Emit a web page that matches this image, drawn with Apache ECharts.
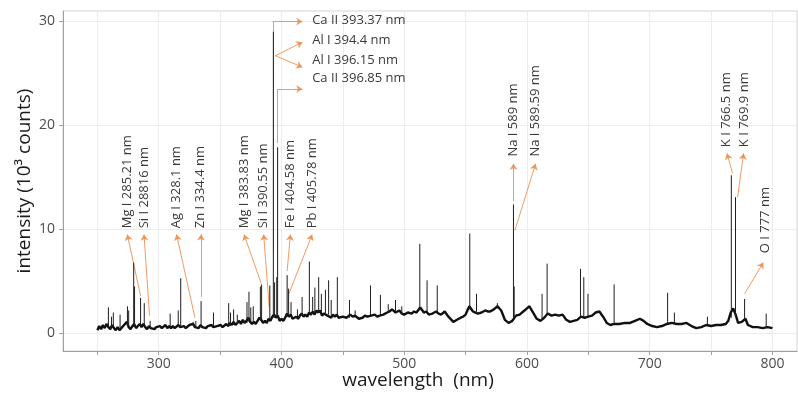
<!DOCTYPE html>
<html>
<head>
<meta charset="utf-8">
<script src="https://cdn.jsdelivr.net/npm/echarts@6/dist/echarts.min.js"></script>
<style>
  html, body { margin: 0; padding: 0; background: #fff; }
  #chart { width: 798px; height: 393px; }
</style>
</head>
<body>
<div id="chart"></div>
<script>
// continuum: [nm, 10^3 counts]
const baseline = [
  [250, 0.3], [251.5, 0.7], [253, 0.4], [254.5, 0.8], [256, 0.5], [257.5, 0.9], [259, 0.6], [260.5, 0.4],
  [262, 0.8], [263.5, 0.5], [265, 0.3], [266.5, 0.6], [268, 0.3], [269.5, 0.5], [271, 0.4], [272.5, 0.9],
  [274, 1.1], [275.5, 0.6], [277, 0.4], [278.5, 0.7], [280, 0.9], [281.5, 0.5], [283, 0.7], [284.5, 0.9],
  [286, 0.6], [287.5, 0.9], [289, 0.6], [290.5, 0.4], [292, 0.7], [293.5, 0.5], [295, 0.6], [296.5, 0.4],
  [298, 0.6], [299.5, 0.5], [301, 0.7], [302.5, 0.5], [304, 0.6], [305.5, 0.8], [307, 0.5], [308.5, 0.7],
  [310, 0.5], [311.5, 0.7], [313, 0.5], [314.5, 0.6], [316, 0.8], [317.5, 0.6], [319, 0.5], [320.5, 0.7],
  [322, 0.5], [323.5, 0.6], [325, 0.8], [326.5, 0.7], [328, 0.9], [329.5, 0.6], [331, 0.7], [332.5, 0.5],
  [334, 0.8], [335.5, 0.6], [337, 0.7], [338.5, 0.5], [340, 0.7], [341.5, 0.6], [343, 0.8], [344.5, 0.6],
  [346, 0.5], [347.5, 0.7], [349, 0.6], [350.5, 0.8], [352, 0.6], [353.5, 0.7], [355, 0.9], [356.5, 0.7],
  [358, 1.0], [359.5, 0.8], [361, 1.1], [362.5, 0.8], [364, 1.0], [365.5, 1.2], [367, 0.9], [368.5, 1.3],
  [370, 1.0], [371.5, 1.2], [373, 1.5], [374.5, 1.1], [376, 0.9], [377.5, 1.1], [379, 0.9], [380.5, 1.2],
  [382, 1.5], [383.5, 1.3], [385, 1.0], [386.5, 1.2], [388, 1.0], [389.5, 1.4], [391, 1.2], [392.5, 1.6],
  [394, 1.8], [395.5, 1.5], [397, 1.7], [398.5, 1.2], [400, 1.4], [401.5, 1.2], [403, 1.5], [404.5, 1.9],
  [406, 1.6], [407.5, 1.8], [409, 1.4], [410.5, 1.3], [412, 1.6], [413.5, 1.4], [415, 1.7], [416.5, 1.9],
  [418, 1.6], [419.5, 1.8], [421, 1.6], [422.5, 2.0], [424, 1.8], [425.5, 2.1], [427, 1.8], [428.5, 2.2],
  [430, 2.0], [431.5, 2.2], [433, 1.7], [434.5, 1.9], [436, 2.0], [437.5, 1.7], [439, 1.8], [440.5, 1.5],
  [442, 1.8], [443.5, 1.6], [445, 1.8], [446.5, 1.5], [448, 1.6], [450, 1.6], [453, 1.5], [456, 1.8],
  [458, 1.6], [460, 1.7], [463, 1.4], [466, 1.5], [468, 1.7], [470, 1.6], [473, 1.7], [476, 1.8],
  [478, 1.6], [480, 1.7], [483, 1.8], [486, 2.0], [488, 2.1], [490, 2.3], [493, 2.0], [496, 2.2],
  [498, 1.9], [500, 1.8], [503, 2.0], [506, 1.9], [508, 2.1], [510, 2.0], [513, 2.5], [516, 2.0],
  [518, 2.1], [520, 1.8], [523, 1.9], [526, 2.1], [528, 1.9], [530, 1.8], [533, 2.1], [536, 1.6],
  [540, 1.1], [543, 1.3], [546, 1.5], [548, 1.6], [550, 1.8], [553, 2.6], [556, 2.1], [558, 2.0],
  [560, 1.9], [563, 2.0], [566, 2.2], [568, 2.1], [570, 2.1], [573, 2.3], [576, 2.6], [579, 2.2],
  [582, 1.3], [585, 1.0], [588, 1.2], [591, 1.7], [594, 1.8], [597, 2.1], [600, 2.4], [602, 2.6],
  [605, 2.0], [608, 1.4], [611, 1.2], [614, 1.5], [617, 1.9], [620, 1.7], [623, 1.8], [626, 1.7],
  [629, 1.8], [632, 1.3], [635, 1.1], [638, 1.2], [641, 1.3], [644, 1.6], [647, 1.5], [650, 1.6],
  [653, 1.7], [656, 2.0], [659, 2.1], [662, 1.6], [665, 1.0], [668, 0.8], [671, 0.9], [675, 0.9],
  [680, 1.0], [684, 1.0], [688, 1.2], [692, 1.4], [695, 1.2], [698, 0.9], [702, 0.7], [706, 0.6],
  [710, 0.7], [714, 0.9], [718, 1.0], [722, 0.9], [726, 0.9], [730, 1.0], [734, 0.7], [738, 0.5],
  [742, 0.6], [746, 0.8], [750, 0.7], [754, 0.8], [758, 0.8], [762, 0.9], [764, 1.2], [766, 2.0],
  [768, 2.4], [770, 1.8], [772, 1.0], [775, 1.1], [778, 1.4], [780, 0.8], [784, 0.6], [788, 0.6],
  [792, 0.5], [796, 0.6], [800, 0.5]
];

// emission lines: [nm, foot, top]
const peaks = [
  [259, 0.6, 2.5], [261.5, 0.6, 1.6], [263, 0.6, 2.0], [268.5, 0.4, 1.8], [274.5, 0.7, 2.6],
  [275.5, 0.7, 2.2], [279.6, 0.6, 6.8], [280.3, 0.6, 4.5], [285.2, 0.7, 3.4], [288.2, 0.6, 2.9],
  [293, 0.5, 1.2], [309.3, 0.5, 1.9], [315.9, 0.6, 2.2], [317.9, 0.6, 5.3], [328.1, 0.7, 1.1],
  [330.2, 0.6, 1.2], [334.5, 0.6, 3.1], [344.6, 0.6, 2.0], [357, 0.7, 2.9], [358.5, 0.7, 2.0],
  [361, 0.8, 2.3], [364, 0.9, 1.8], [371.9, 1.0, 3.0], [373.5, 1.1, 4.0], [375, 1.0, 2.5],
  [377, 1.0, 2.6], [382.8, 1.2, 4.5], [383.8, 1.3, 4.7], [390.5, 1.3, 4.6], [393.37, 1.5, 29.0],
  [394.4, 1.5, 4.9], [396.15, 1.5, 5.4], [396.85, 1.5, 17.9], [404.6, 1.6, 5.6], [405.8, 1.6, 4.3],
  [407.8, 1.6, 3.0], [413, 1.5, 2.3], [416.8, 1.7, 3.5], [422.7, 1.8, 6.9], [425.4, 1.9, 3.5],
  [427.2, 1.9, 4.4], [430.3, 2.0, 5.4], [432.5, 1.9, 3.8], [435.8, 1.9, 4.2], [438.4, 1.8, 5.1],
  [440.5, 1.7, 3.2], [445.5, 1.6, 5.4], [455.4, 1.5, 3.2], [460, 1.5, 2.2], [472.5, 1.7, 4.6],
  [480.6, 1.7, 3.7], [487, 2.0, 2.8], [492.9, 2.0, 3.2], [498, 1.9, 2.6], [512.7, 2.2, 8.6],
  [518.6, 2.0, 5.1], [526.9, 2.0, 4.6], [553.4, 2.3, 9.6], [558.9, 2.0, 3.8], [575.9, 2.4, 2.9],
  [589.0, 1.2, 12.4], [589.6, 1.3, 4.5], [612.3, 1.3, 3.8], [616.4, 1.8, 6.7], [643.6, 1.5, 6.2],
  [646.3, 1.5, 5.4], [649.7, 1.6, 3.8], [671.0, 0.9, 4.7], [714.6, 0.9, 3.9], [720.1, 0.9, 2.0],
  [747, 0.8, 1.6], [766.5, 1.5, 15.2], [769.9, 1.6, 13.1], [777.3, 1.3, 3.3], [794.9, 0.5, 1.9]
];

const xTicks = [250, 300, 350, 400, 450, 500, 550, 600, 650, 700, 750, 800];
const xLabels = [300, 400, 500, 600, 700, 800];
const yTicks = [0, 10, 20, 30];

// upright (rotated) line labels and where their text starts
const sideNames = [
  'Mg I 285.21 nm', 'Si I 28816 nm', 'Ag I 328.1 nm', 'Zn I 334.4 nm',
  'Mg I 383.83 nm', 'Si I 390.55 nm', 'Fe I 404.58 nm', 'Pb I 405.78 nm',
  'Na I 589 nm', 'Na I 589.59 nm', 'K I 766.5 nm', 'K I 769.9 nm', 'O I 777 nm'
];
const sideAnchor = [
  [274.0, 10.1], [288.0, 10.1], [314.5, 10.1], [334.2, 10.1],
  [369.5, 10.1], [385.5, 10.1], [407.4, 10.1], [425.2, 10.1],
  [589.0, 17.0], [607.0, 17.0], [762.0, 17.9], [776.8, 17.9], [794.4, 7.7]
];

// horizontal labels next to the Ca/Al doublets
const topNames = ['Ca II 393.37 nm', 'Al I 394.4 nm', 'Al I 396.15 nm', 'Ca II 396.85 nm'];
const topAnchor = [[425.0, 30.1], [425.0, 28.2], [425.0, 26.3], [425.0, 24.5]];

// arrow paths, tail first; the head sits on the last segment
const arrowPaths = [
  [[285.2, 3.6], [274.4, 9.5]],
  [[292.5, 1.7], [288.0, 9.5]],
  [[329.5, 1.5], [314.5, 9.5]],
  [[334.4, 3.5], [334.4, 9.5]],
  [[383.5, 4.8], [369.5, 9.5]],
  [[390.0, 2.5], [385.5, 9.5]],
  [[404.6, 6.0], [407.3, 9.5]],
  [[406.0, 3.8], [425.0, 9.5]],
  [[589.0, 12.7], [589.0, 16.3]],
  [[590.2, 9.9], [607.0, 16.3]],
  [[767.5, 15.4], [763.0, 17.3]],
  [[771.6, 13.1], [776.5, 17.3]],
  [[777.3, 3.8], [792.5, 6.8]],
  [[392.9, 8.0], [392.9, 30.0], [417.0, 30.0]],
  [[395.0, 26.7], [417.0, 28.0]],
  [[395.0, 26.7], [417.0, 25.6]],
  [[396.4, 18.3], [396.4, 23.5], [417.0, 23.5]]
];

const FONT = '"Open Sans", "Noto Sans", sans-serif';
const ORANGE = '#ec8a4a';

// split each path: last leg carries the arrowhead, earlier legs are plain
const headLegs = [];
const plainLegs = [];
arrowPaths.forEach(path => {
  for (let i = 0; i < path.length - 1; i++) {
    const leg = { coords: [path[i], path[i + 1]] };
    if (i === path.length - 2) headLegs.push(leg);
    else plainLegs.push(leg);
  }
});

const chart = echarts.init(document.getElementById('chart'));

chart.setOption({
  animation: false,
  backgroundColor: '#fff',
  textStyle: { fontFamily: FONT },
  grid: {
    left: 63, right: 1, top: 11, bottom: 42,
    outerBoundsMode: 'none',
    containLabel: false,
    show: true, borderColor: '#d4d4d4', borderWidth: 1
  },
  xAxis: {
    type: 'value',
    min: 222,
    max: 820,
    name: 'wavelength  (nm)',
    nameLocation: 'middle',
    nameGap: 20,
    nameMoveOverlap: false,
    nameTextStyle: { fontSize: 19, color: '#1a1a1a', padding: [0, 24, 0, 0] },
    axisLine: { show: true, onZero: false, lineStyle: { color: '#a0a0a0' } },
    axisTick: { show: true, length: 4, customValues: xTicks, lineStyle: { color: '#a0a0a0' } },
    axisLabel: { customValues: xLabels, fontSize: 14, color: '#4d4d4d', margin: 6 },
    splitLine: { show: true, lineStyle: { color: '#ececec' } }
  },
  yAxis: {
    type: 'value',
    min: -1.7,
    max: 31,
    name: 'intensity (10³ counts)',
    nameLocation: 'middle',
    nameGap: 29,
    nameMoveOverlap: false,
    nameTextStyle: { fontSize: 19, color: '#1a1a1a' },
    axisLine: { show: true, lineStyle: { color: '#a0a0a0' } },
    axisTick: { show: true, length: 4, customValues: yTicks, lineStyle: { color: '#a0a0a0' } },
    axisLabel: { customValues: yTicks, fontSize: 14, color: '#4d4d4d', margin: 8 },
    splitLine: { show: true, lineStyle: { color: '#ececec' } }
  },
  series: [
    {
      type: 'lines',
      coordinateSystem: 'cartesian2d',
      z: 2,
      symbol: ['none', 'arrow'],
      symbolSize: 6,
      lineStyle: { color: ORANGE, width: 1, opacity: 0.85 },
      itemStyle: { color: ORANGE },
      data: headLegs
    },
    {
      type: 'lines',
      coordinateSystem: 'cartesian2d',
      z: 2,
      symbol: ['none', 'none'],
      lineStyle: { color: ORANGE, width: 1, opacity: 0.85 },
      data: plainLegs
    },
    {
      type: 'line',
      z: 3,
      data: baseline,
      showSymbol: false,
      lineStyle: { color: '#111', width: 2.4 }
    },
    {
      // emission lines as thin verticals
      type: 'custom',
      z: 4,
      data: peaks,
      encode: { x: 0, y: [1, 2] },
      renderItem: (params, api) => {
        const a = api.coord([api.value(0), api.value(1)]);
        const b = api.coord([api.value(0), api.value(2)]);
        return {
          type: 'line',
          shape: { x1: a[0], y1: a[1], x2: b[0], y2: b[1] },
          style: { stroke: '#1e1e1e', lineWidth: 1 }
        };
      }
    },
    {
      type: 'custom',
      z: 5,
      data: sideAnchor,
      renderItem: (params, api) => {
        const p = api.coord([api.value(0), api.value(1)]);
        return {
          type: 'text',
          x: p[0],
          y: p[1],
          rotation: Math.PI / 2,
          style: {
            text: sideNames[params.dataIndex],
            fill: '#3a3a3a',
            fontSize: 13,
            fontFamily: FONT,
            align: 'left',
            verticalAlign: 'middle'
          }
        };
      }
    },
    {
      type: 'custom',
      z: 5,
      data: topAnchor,
      renderItem: (params, api) => {
        const p = api.coord([api.value(0), api.value(1)]);
        return {
          type: 'text',
          x: p[0],
          y: p[1],
          style: {
            text: topNames[params.dataIndex],
            fill: '#3a3a3a',
            fontSize: 13,
            fontFamily: FONT,
            align: 'left',
            verticalAlign: 'middle'
          }
        };
      }
    }
  ]
});
</script>
</body>
</html>
